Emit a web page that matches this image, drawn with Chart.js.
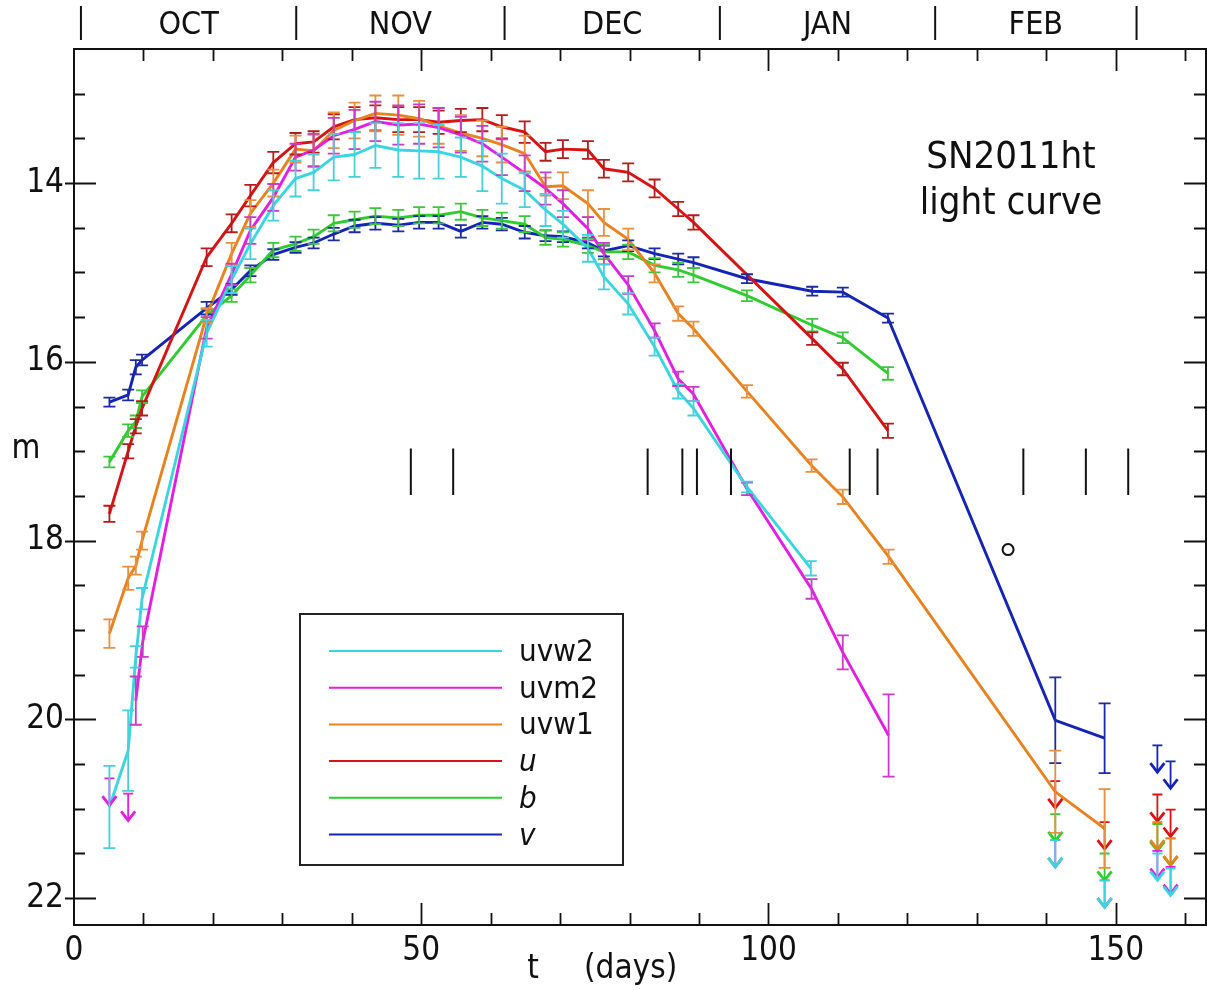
<!DOCTYPE html>
<html>
<head>
<meta charset="utf-8">
<script src="https://cdn.jsdelivr.net/npm/chart.js@4.4.0/dist/chart.umd.min.js"></script>
<style>
  html, body { margin: 0; padding: 0; background: #fff; }
  #wrap { position: relative; width: 1207px; height: 990px; }
</style>
</head>
<body>
<div id="wrap"><canvas id="lc"></canvas></div>
<script>
const FONT = "'DejaVu Sans Condensed', 'DejaVu Sans', sans-serif";

// light curve points: t (days), magnitude, 1-sigma error
const uvw2Days = [5.1, 7.8, 8.9, 9.8, 19.1, 22.7, 25.4, 28.7, 31.9, 34.5, 37.4, 40.4, 43.4, 46.7, 49.7, 52.5, 55.7, 58.8, 61.6, 64.9, 67.9, 70.4, 74.0, 76.3, 79.8, 83.6, 87.0, 89.2, 96.9, 106.1];
const uvw2Mag  = [20.98, 20.35, 19.30, 18.65, 15.68, 15.08, 14.68, 14.25, 13.95, 13.88, 13.71, 13.68, 13.58, 13.63, 13.64, 13.65, 13.71, 13.81, 13.95, 14.08, 14.30, 14.46, 14.73, 15.05, 15.35, 15.83, 16.33, 16.52, 17.40, 18.31];
const uvw2Err  = [0.46, 0.45, 0.12, 0.12, 0.15, 0.15, 0.17, 0.17, 0.2, 0.2, 0.26, 0.25, 0.25, 0.3, 0.31, 0.3, 0.22, 0.28, 0.28, 0.19, 0.18, 0.15, 0.15, 0.14, 0.12, 0.1, 0.08, 0.08, 0.06, 0.08];

const uvm2Days = [8.9, 9.9, 19.1, 22.7, 25.4, 28.7, 31.9, 34.5, 37.4, 40.4, 43.4, 46.7, 49.7, 52.5, 55.7, 58.8, 61.6, 64.9, 67.9, 70.4, 74.0, 76.3, 79.8, 83.6, 87.0, 89.2, 96.9, 106.2, 110.7, 117.3];
const uvm2Mag  = [19.79, 19.13, 15.62, 15.02, 14.53, 14.16, 13.71, 13.63, 13.47, 13.40, 13.31, 13.35, 13.34, 13.38, 13.46, 13.56, 13.71, 13.89, 14.06, 14.23, 14.51, 14.79, 15.14, 15.65, 16.19, 16.36, 17.42, 18.54, 19.25, 20.18];
const uvm2Err  = [0.27, 0.17, 0.12, 0.12, 0.15, 0.15, 0.15, 0.18, 0.2, 0.22, 0.22, 0.22, 0.22, 0.22, 0.2, 0.2, 0.2, 0.2, 0.18, 0.15, 0.13, 0.12, 0.1, 0.08, 0.08, 0.08, 0.07, 0.11, 0.19, 0.46];

const uvw1Days = [5.1, 7.8, 8.9, 9.8, 19.1, 22.7, 25.4, 28.7, 31.9, 34.5, 37.4, 40.4, 43.4, 46.7, 49.7, 52.5, 55.7, 58.8, 61.6, 64.9, 67.9, 70.4, 74.0, 76.3, 79.8, 83.6, 87.0, 89.2, 96.9, 106.2, 110.7, 117.3, 141.3, 148.4];
const uvw1Mag  = [19.04, 18.42, 18.28, 18.00, 15.48, 14.79, 14.34, 14.00, 13.62, 13.64, 13.41, 13.30, 13.22, 13.24, 13.28, 13.36, 13.44, 13.50, 13.57, 13.67, 14.04, 14.03, 14.23, 14.44, 14.63, 15.01, 15.46, 15.63, 16.33, 17.16, 17.51, 18.18, 20.81, 21.22];
const uvw1Err  = [0.16, 0.13, 0.1, 0.1, 0.08, 0.12, 0.15, 0.15, 0.15, 0.18, 0.2, 0.2, 0.2, 0.22, 0.2, 0.2, 0.2, 0.2, 0.2, 0.2, 0.1, 0.15, 0.15, 0.15, 0.12, 0.1, 0.08, 0.08, 0.07, 0.07, 0.08, 0.08, 0.46, 0.44];

const uDays = [5.1, 7.8, 8.9, 9.8, 19.1, 22.7, 25.4, 28.7, 31.9, 34.5, 37.4, 40.4, 43.4, 46.7, 49.7, 52.5, 55.7, 58.8, 61.6, 64.9, 67.9, 70.4, 74.0, 76.3, 79.8, 83.6, 87.0, 89.2, 106.3, 110.7, 117.2];
const uMag  = [17.70, 17.00, 16.72, 16.52, 14.83, 14.45, 14.14, 13.77, 13.56, 13.54, 13.37, 13.29, 13.27, 13.29, 13.29, 13.32, 13.30, 13.29, 13.37, 13.43, 13.65, 13.62, 13.63, 13.84, 13.88, 14.06, 14.29, 14.44, 15.74, 16.08, 16.77];
const uErr  = [0.09, 0.08, 0.08, 0.08, 0.1, 0.1, 0.12, 0.12, 0.12, 0.12, 0.14, 0.14, 0.14, 0.14, 0.14, 0.13, 0.13, 0.13, 0.13, 0.12, 0.1, 0.1, 0.1, 0.1, 0.1, 0.1, 0.08, 0.08, 0.07, 0.07, 0.08];

const bDays = [5.1, 7.8, 8.9, 9.8, 19.1, 22.7, 25.4, 28.7, 31.9, 34.5, 37.4, 40.4, 43.4, 46.7, 49.7, 52.5, 55.7, 58.8, 61.6, 64.9, 67.9, 70.4, 74.0, 76.3, 79.8, 83.6, 87.0, 89.2, 96.9, 106.3, 110.7, 117.2];
const bMag  = [17.12, 16.77, 16.67, 16.39, 15.48, 15.26, 15.03, 14.75, 14.68, 14.60, 14.45, 14.41, 14.37, 14.39, 14.36, 14.36, 14.32, 14.39, 14.42, 14.46, 14.61, 14.63, 14.70, 14.77, 14.77, 14.92, 14.97, 15.03, 15.26, 15.59, 15.73, 16.13];
const bErr  = [0.06, 0.07, 0.07, 0.07, 0.07, 0.07, 0.08, 0.08, 0.08, 0.08, 0.09, 0.09, 0.09, 0.09, 0.09, 0.09, 0.09, 0.09, 0.09, 0.09, 0.08, 0.08, 0.08, 0.08, 0.08, 0.08, 0.08, 0.08, 0.06, 0.07, 0.06, 0.07];

const vDays = [5.1, 7.8, 8.9, 9.8, 19.1, 22.7, 25.4, 28.7, 31.9, 34.5, 37.4, 40.4, 43.4, 46.7, 49.7, 52.5, 55.7, 58.8, 61.6, 64.9, 67.9, 70.4, 74.0, 76.3, 79.8, 83.6, 87.0, 89.2, 96.9, 106.3, 110.7, 117.2, 141.3, 148.4];
const vMag  = [16.45, 16.37, 16.06, 15.98, 15.40, 15.19, 14.98, 14.80, 14.72, 14.67, 14.57, 14.48, 14.45, 14.47, 14.44, 14.44, 14.54, 14.44, 14.46, 14.55, 14.59, 14.60, 14.67, 14.76, 14.70, 14.79, 14.85, 14.89, 15.07, 15.21, 15.22, 15.51, 20.01, 20.21];
const vErr  = [0.05, 0.06, 0.08, 0.06, 0.07, 0.06, 0.06, 0.06, 0.06, 0.06, 0.07, 0.07, 0.07, 0.07, 0.07, 0.07, 0.07, 0.07, 0.07, 0.07, 0.06, 0.06, 0.06, 0.06, 0.06, 0.06, 0.06, 0.06, 0.05, 0.05, 0.05, 0.05, 0.48, 0.39];

// upper limits (drawn as arrows towards fainter mag)
const uvw2LimDays = [141.3, 148.4, 156.0, 157.9];
const uvw2LimMag  = [21.35, 21.80, 21.50, 21.67];
const uvm2LimDays = [5.1, 7.8, 141.3, 148.4, 156.0, 157.9];
const uvm2LimMag  = [20.66, 20.83, 21.35, 21.80, 21.47, 21.65];
const uvw1LimDays = [156.0, 157.9];
const uvw1LimMag  = [21.15, 21.33];
const uLimDays = [141.3, 148.4, 156.0, 157.9];
const uLimMag  = [20.69, 21.15, 20.84, 21.01];
const bLimDays = [141.3, 148.4, 156.0, 157.9];
const bLimMag  = [21.06, 21.50, 21.17, 21.33];
const vLimDays = [156.0, 157.9];
const vLimMag  = [20.29, 20.47];

// other marks
const circleDays = [134.5];
const circleMag  = [18.10];
const specDays = [48.5, 54.6, 82.6, 87.6, 89.7, 94.6, 111.7, 115.7, 136.7, 145.7, 151.8];
const specRange = [16.97, 17.49];

// top calendar axis
const monthNames = ['OCT', 'NOV', 'DEC', 'JAN', 'FEB'];
const monthEdges = [1, 32, 62, 93, 124, 153];

const xTickLabels = [0, 50, 100, 150];
const yTickLabels = [14, 16, 18, 20, 22];
const ARROW_LEN = 0.3;

const pts = (days, mags) => days.map((d, i) => ({ x: d, y: mags[i] }));
const isIn = (list, v) => list.some(t => Math.abs(t - v) < 1e-6);

function curve(label, days, mags, errs, color, barColor, italic) {
  return {
    label, data: pts(days, mags), errs, barColor, italic, inLegend: true,
    showLine: true, borderColor: color, backgroundColor: color,
    borderWidth: 2.9, pointRadius: 0, pointHoverRadius: 0, tension: 0
  };
}
function limits(days, mags, barColor) {
  return {
    data: pts(days, mags), limits: true, barColor,
    showLine: false, pointRadius: 0, pointHoverRadius: 0, borderColor: barColor
  };
}

const COL = {
  uvw2: ['#3ad6e0', '#48d0da'],
  uvm2: ['#e21ee2', '#c93cc9'],
  uvw1: ['#e8821e', '#e8903e'],
  u:    ['#d61414', '#b41c1c'],
  b:    ['#2ecc2e', '#3cc63c'],
  v:    ['#1424b4', '#1e2aa4']
};

const errorBars = {
  id: 'errorBars',
  afterDatasetsDraw(chart) {
    const ctx = chart.ctx;
    const ys = chart.scales.y;
    for (let i = chart.data.datasets.length - 1; i >= 0; i--) {
      const ds = chart.data.datasets[i];
      if (!ds.errs && !ds.limits) continue;
      const meta = chart.getDatasetMeta(i);
      ctx.save();
      ctx.strokeStyle = ds.barColor;
      ctx.lineWidth = 1.8;
      meta.data.forEach((pt, j) => {
        const m = ds.data[j].y;
        ctx.beginPath();
        if (ds.errs) {
          const t = ys.getPixelForValue(m - ds.errs[j]);
          const b = ys.getPixelForValue(m + ds.errs[j]);
          ctx.moveTo(pt.x, t); ctx.lineTo(pt.x, b);
          ctx.moveTo(pt.x - 6, t); ctx.lineTo(pt.x + 6, t);
          ctx.moveTo(pt.x - 6, b); ctx.lineTo(pt.x + 6, b);
          ctx.stroke();
        } else {
          const tip = ys.getPixelForValue(m + ARROW_LEN);
          ctx.moveTo(pt.x - 5, pt.y); ctx.lineTo(pt.x + 5, pt.y);
          ctx.moveTo(pt.x, pt.y); ctx.lineTo(pt.x, tip);
          ctx.stroke();
          ctx.lineWidth = 2.8;
          ctx.beginPath();
          ctx.moveTo(pt.x - 7, tip - 9); ctx.lineTo(pt.x, tip); ctx.lineTo(pt.x + 7, tip - 9);
          ctx.stroke();
          ctx.lineWidth = 1.8;
        }
      });
      ctx.restore();
    }
  }
};

const frame = {
  id: 'frame',
  afterDraw(chart) {
    const { ctx, chartArea: a, scales: { x, y } } = chart;
    ctx.save();
    ctx.strokeStyle = '#111';
    ctx.lineWidth = 2;
    ctx.strokeRect(a.left, a.top, a.right - a.left, a.bottom - a.top);

    // inward ticks on all four sides
    ctx.lineWidth = 1.8;
    ctx.beginPath();
    for (let d = 10; d < x.max; d += 10) {
      const px = Math.round(x.getPixelForValue(d)) + 0.5;
      const len = d % 50 === 0 ? 22 : 12;
      ctx.moveTo(px, a.bottom); ctx.lineTo(px, a.bottom - len);
      ctx.moveTo(px, a.top); ctx.lineTo(px, a.top + len);
    }
    for (let m = 13; m < y.max; m += 0.5) {
      const py = Math.round(y.getPixelForValue(m)) + 0.5;
      const major = m % 2 === 0;
      ctx.moveTo(major ? a.left - 9 : a.left, py); ctx.lineTo(a.left + (major ? 22 : 11), py);
      ctx.moveTo(a.right, py); ctx.lineTo(a.right - (major ? 22 : 12), py);
    }
    ctx.stroke();

    // spectroscopy epochs
    ctx.lineWidth = 2;
    ctx.beginPath();
    specDays.forEach(d => {
      const px = x.getPixelForValue(d);
      ctx.moveTo(px, y.getPixelForValue(specRange[0]));
      ctx.lineTo(px, y.getPixelForValue(specRange[1]));
    });
    ctx.stroke();

    // calendar months above the frame
    ctx.beginPath();
    monthEdges.forEach(d => {
      const px = x.getPixelForValue(d);
      ctx.moveTo(px, 6); ctx.lineTo(px, 40);
    });
    ctx.stroke();
    ctx.fillStyle = '#111';
    ctx.textAlign = 'center';
    ctx.textBaseline = 'alphabetic';
    ctx.font = '32px ' + FONT;
    monthNames.forEach((name, i) => {
      const px = x.getPixelForValue((monthEdges[i] + monthEdges[i + 1]) / 2);
      ctx.fillText(name, px, 34);
    });

    // axis titles
    ctx.font = '33px ' + FONT;
    ctx.fillText('m', 26, 458);
    ctx.fillText('t', 533, 978);
    ctx.textAlign = 'left';
    ctx.fillText('(days)', 584, 978);

    // title
    ctx.textAlign = 'center';
    ctx.font = '38px ' + FONT;
    ctx.fillText('SN2011ht', 1011, 168);
    ctx.fillText('light curve', 1011, 214);

    // legend
    const box = { l: 300, t: 614, r: 623, b: 865 };
    ctx.fillStyle = '#fff';
    ctx.fillRect(box.l, box.t, box.r - box.l, box.b - box.t);
    ctx.strokeStyle = '#222';
    ctx.lineWidth = 2;
    ctx.strokeRect(box.l, box.t, box.r - box.l, box.b - box.t);
    const rows = chart.data.datasets.filter(ds => ds.inLegend);
    rows.forEach((ds, i) => {
      const ly = 651 + i * 36.7;
      ctx.strokeStyle = ds.borderColor;
      ctx.lineWidth = 2;
      ctx.beginPath();
      ctx.moveTo(329, ly); ctx.lineTo(502, ly);
      ctx.stroke();
      ctx.fillStyle = '#111';
      ctx.textAlign = 'left';
      ctx.font = (ds.italic ? 'italic ' : '') + '31px ' + FONT;
      ctx.fillText(ds.label, 519, ly + 10);
    });
    ctx.restore();
  }
};

new Chart(document.getElementById('lc'), {
  type: 'scatter',
  data: {
    datasets: [
      curve('uvw2', uvw2Days, uvw2Mag, uvw2Err, COL.uvw2[0], COL.uvw2[1], false),
      curve('uvm2', uvm2Days, uvm2Mag, uvm2Err, COL.uvm2[0], COL.uvm2[1], false),
      curve('uvw1', uvw1Days, uvw1Mag, uvw1Err, COL.uvw1[0], COL.uvw1[1], false),
      curve('u', uDays, uMag, uErr, COL.u[0], COL.u[1], true),
      curve('b', bDays, bMag, bErr, COL.b[0], COL.b[1], true),
      curve('v', vDays, vMag, vErr, COL.v[0], COL.v[1], true),
      limits(uvw2LimDays, uvw2LimMag, COL.uvw2[0]),
      limits(uvm2LimDays, uvm2LimMag, COL.uvm2[0]),
      limits(uvw1LimDays, uvw1LimMag, COL.uvw1[0]),
      limits(bLimDays, bLimMag, COL.b[0]),
      limits(uLimDays, uLimMag, COL.u[0]),
      limits(vLimDays, vLimMag, COL.v[0]),
      {
        data: pts(circleDays, circleMag), pointRadius: 5.5, pointHoverRadius: 5.5, pointBorderWidth: 2,
        pointBorderColor: '#111', pointBackgroundColor: 'rgba(0,0,0,0)'
      }
    ]
  },
  options: {
    responsive: true,
    maintainAspectRatio: false,
    animation: false,
    layout: { autoPadding: false, padding: { top: 49, right: 1, left: 0, bottom: 0 } },
    plugins: { legend: { display: false }, tooltip: { enabled: false } },
    scales: {
      x: {
        type: 'linear', min: 0, max: 163,
        grid: { display: false, drawTicks: false },
        border: { display: false },
        afterFit: s => { s.height = 65; s.paddingLeft = 0; s.paddingRight = 0; },
        ticks: {
          stepSize: 10, autoSkip: false, maxRotation: 0, padding: 7, includeBounds: false,
          color: '#111', font: { family: FONT, size: 33 },
          callback: v => isIn(xTickLabels, v) ? String(v) : ''
        }
      },
      y: {
        type: 'linear', reverse: true, min: 12.5, max: 22.3,
        grid: { display: false, drawTicks: false },
        border: { display: false },
        afterFit: s => { s.width = 74; s.paddingTop = 0; s.paddingBottom = 0; },
        ticks: {
          stepSize: 0.5, autoSkip: false, padding: 10, includeBounds: false,
          color: '#111', font: { family: FONT, size: 33 },
          callback: v => isIn(yTickLabels, v) ? String(v) : ''
        }
      }
    }
  },
  plugins: [errorBars, frame]
});
</script>
</body>
</html>
